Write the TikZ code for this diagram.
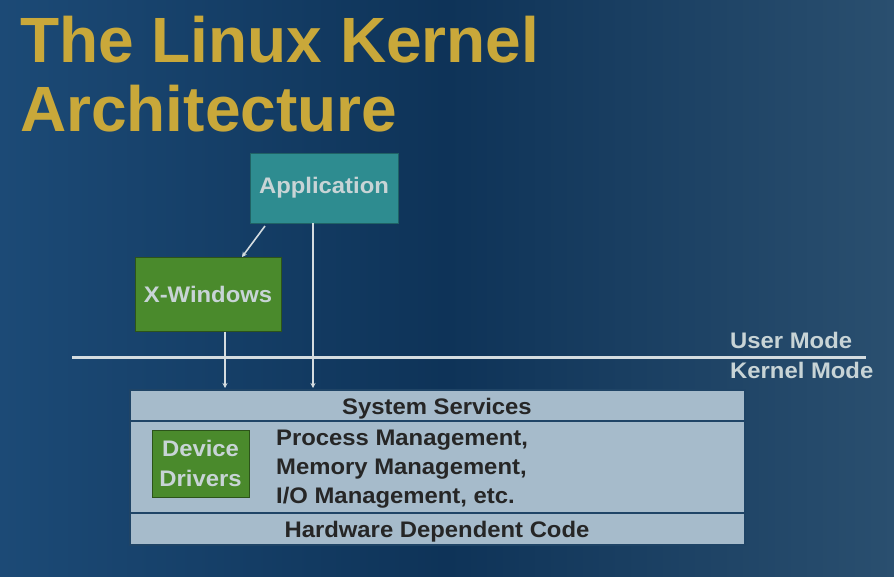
\documentclass[tikz,border=0pt]{standalone}
\usepackage{fontspec}
\setmainfont{Liberation Sans}[FakeStretch=1.06]
\newfontfamily\titlefont{Liberation Sans}
\usetikzlibrary{arrows.meta}
\definecolor{bgA}{HTML}{1C4A76}
\definecolor{bgB}{HTML}{0E3358}
\definecolor{bgC}{HTML}{2A4F6F}
\definecolor{gold}{HTML}{C9A83A}
\definecolor{teal}{HTML}{2E8C90}
\definecolor{grn}{HTML}{4A8A2C}
\definecolor{lbl}{HTML}{C8D4D6}
\definecolor{kern}{HTML}{A6BBCB}
\definecolor{kline}{HTML}{1F4466}
\definecolor{wline}{HTML}{D4DCE0}
\tikzset{
  title/.style={text=gold,font=\titlefont\fontsize{64}{70}\selectfont\bfseries,anchor=base west,inner sep=0},
  appbox/.style={fill=teal,draw=teal!70!black,line width=0.8pt,text=lbl,font=\fontsize{22.5}{26}\selectfont\bfseries},
  grnbox/.style={fill=grn,draw=grn!60!black,line width=1pt,text=lbl,font=\fontsize{22.5}{26}\selectfont\bfseries},
  ktext/.style={text=black!85,font=\fontsize{22.5}{26}\selectfont\bfseries,inner sep=0,anchor=base},
  modetext/.style={text=lbl,font=\fontsize{22.5}{26}\selectfont\bfseries,anchor=base west,inner sep=0},
  conn/.style={draw=wline,line width=1.6pt,-{Stealth[length=5pt,width=5pt]}},
}
\begin{document}
\begin{tikzpicture}[x=1pt,y=-1pt]
\useasboundingbox (0,0) rectangle (894,576);
\shade[left color=bgA,right color=bgC,middle color=bgB] (0,0) rectangle (894,576);
% title
\node[title] (t1) at (20,62) {The Linux Kernel};
\node[title] (t2) at (20,131) {Architecture};
% user boxes
\node[appbox,minimum width=148pt,minimum height=70pt] (app) at (324,188) {Application};
\node[grnbox,minimum width=146pt,minimum height=74pt] (xw) at (208,294) {X-Windows};
% mode line
\coordinate (ml) at (72,357);
\coordinate (mr) at (866,357);
\draw[wline,line width=3pt] (ml) -- (mr);
\node[modetext] (um) at (730,348) {User Mode};
\node[modetext] (km) at (730,378) {Kernel Mode};
% kernel box
\node[fill=kern,draw=kline,line width=1.5pt,minimum width=615pt,minimum height=155pt,inner sep=0] (kb) at (437.5,467.5) {};
\coordinate (d1l) at (130,421);
\coordinate (d1r) at (745,421);
\coordinate (d2l) at (130,513);
\coordinate (d2r) at (745,513);
\draw[kline,line width=2.5pt] (d1l) -- (d1r);
\draw[kline,line width=2.5pt] (d2l) -- (d2r);
\node[ktext] (ss) at (437,414) {System Services};
\node[ktext] (hw) at (437,537) {Hardware Dependent Code};
\node[grnbox,minimum width=97pt,minimum height=67pt,inner sep=1pt,align=center,font=\fontsize{22.5}{30}\selectfont\bfseries] (dd) at (200.5,463.5) {Device\\Drivers};
\node[ktext,anchor=base west] (p1) at (276,445) {Process Management,};
\node[ktext,anchor=base west] (p2) at (276,474) {Memory Management,};
\node[ktext,anchor=base west] (p3) at (276,503) {I/O Management, etc.};
% connectors
\coordinate (s1) at (265,226);
\coordinate (e1) at (242,257);
\coordinate (a1) at (313,388);
\coordinate (a2) at (225,388);
\draw[conn] (s1) -- (e1);
\draw[conn] (app.south -| a1) -- (a1);
\draw[conn] (xw.south -| a2) -- (a2);
\end{tikzpicture}
\end{document}
